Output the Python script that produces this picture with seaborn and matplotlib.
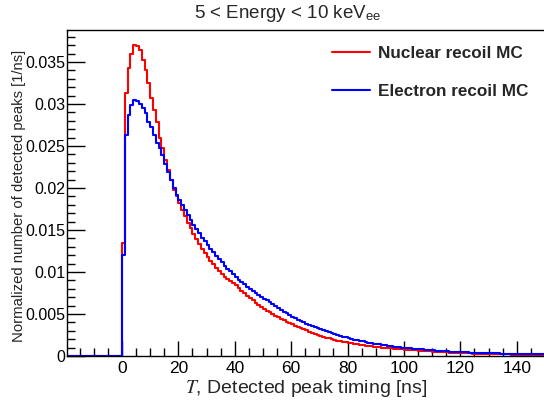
import numpy as np
import pandas as pd
import matplotlib
matplotlib.use("Agg")
import matplotlib.pyplot as plt
from matplotlib.ticker import MultipleLocator, FuncFormatter
from matplotlib.lines import Line2D
import seaborn as sns

# ---- data (1 ns bins starting at T = 0 ns) ----
nuclear_recoil = [
    0.0135, 0.0313, 0.0343, 0.0360, 0.0370, 0.0369, 0.0364, 0.0352, 0.0340, 0.0325,
    0.0307, 0.0293, 0.0279, 0.0260, 0.0247, 0.0233, 0.0221, 0.0209, 0.0198, 0.0190,
    0.01817, 0.01737, 0.01661, 0.01588, 0.01519, 0.01452, 0.01389, 0.01328, 0.0127, 0.01223,
    0.01178, 0.01135, 0.01093, 0.01052, 0.01014, 0.00976, 0.0094, 0.00914, 0.00888, 0.00864,
    0.0084, 0.00807, 0.00776, 0.00745, 0.00716, 0.00688, 0.00661, 0.00635, 0.00610, 0.00586,
    0.00563, 0.00541, 0.0052, 0.00499, 0.00479, 0.00460, 0.00442, 0.00425, 0.00408, 0.00392,
    0.00376, 0.00361, 0.00347, 0.00333, 0.0032, 0.00305, 0.00291, 0.00278, 0.00265, 0.00252,
    0.00241, 0.00230, 0.00219, 0.00209, 0.00199, 0.0019, 0.00183, 0.00176, 0.00169, 0.00163,
    0.00157, 0.00151, 0.00145, 0.00140, 0.00134, 0.00129, 0.00124, 0.0012, 0.00116, 0.00112,
    0.00108, 0.00105, 0.00101, 0.00098, 0.00095, 0.00092, 0.00089, 0.00086, 0.00083, 0.0008,
    0.00077, 0.00074, 0.00071, 0.00068, 0.00066, 0.00063, 0.00061, 0.00058, 0.00056, 0.00054,
    0.00052, 0.0005, 0.00048, 0.00046, 0.00044, 0.00042, 0.00040, 0.00039, 0.00037, 0.00036,
    0.00034, 0.00033, 0.00031, 0.0003, 0.00029, 0.00028, 0.00027, 0.00026, 0.00025, 0.00024,
    0.00023, 0.00022, 0.00022, 0.00021, 0.00020, 0.0002, 0.00019, 0.00018, 0.00017, 0.00016,
    0.00015, 0.00014, 0.00013, 0.00013, 0.00012, 0.00011, 0.00011, 0.0001, 0.0001, 0.0001,
]
electron_recoil = [
    0.0120, 0.0263, 0.0287, 0.0299, 0.0305, 0.0304, 0.0300, 0.0295, 0.0289, 0.0279,
    0.0272, 0.0263, 0.0254, 0.0247, 0.0239, 0.0229, 0.0219, 0.0209, 0.0200, 0.0192,
    0.01855, 0.01793, 0.01732, 0.01674, 0.01618, 0.01563, 0.01510, 0.01459, 0.0141, 0.01363,
    0.01318, 0.01274, 0.01232, 0.01191, 0.01151, 0.01113, 0.01076, 0.01040, 0.01006, 0.00972,
    0.0094, 0.00910, 0.00882, 0.00854, 0.00827, 0.00801, 0.00776, 0.00751, 0.00728, 0.00705,
    0.00682, 0.00661, 0.0064, 0.00615, 0.00592, 0.00569, 0.00547, 0.00526, 0.00506, 0.00487,
    0.00468, 0.00450, 0.00433, 0.00416, 0.0040, 0.00385, 0.00370, 0.00356, 0.00342, 0.00329,
    0.00316, 0.00304, 0.00292, 0.00281, 0.00270, 0.0026, 0.00250, 0.00240, 0.00230, 0.00221,
    0.00212, 0.00204, 0.00196, 0.00188, 0.00181, 0.00174, 0.00167, 0.0016, 0.00154, 0.00148,
    0.00142, 0.00137, 0.00131, 0.00126, 0.00121, 0.00117, 0.00112, 0.00108, 0.00104, 0.0010,
    0.00096, 0.00093, 0.00090, 0.00087, 0.00084, 0.00081, 0.00078, 0.00075, 0.00072, 0.00070,
    0.00067, 0.00065, 0.00062, 0.00060, 0.00058, 0.00055, 0.00053, 0.00051, 0.00049, 0.00047,
    0.00045, 0.00043, 0.00042, 0.0004, 0.00039, 0.00038, 0.00037, 0.00036, 0.00035, 0.00034,
    0.00033, 0.00032, 0.00031, 0.00030, 0.00029, 0.00028, 0.00027, 0.00026, 0.00026, 0.00025,
    0.00024, 0.00023, 0.00023, 0.00022, 0.00021, 0.00021, 0.00020, 0.0002, 0.00019, 0.00019,
]
series_labels = ["Nuclear recoil MC", "Electron recoil MC"]
series_colors = ["#ff0000", "#0000ff"]
x_tick_values = [0, 20, 40, 60, 80, 100, 120, 140]
title_text = "5 < Energy < 10 keV$_{\\mathregular{ee}}$"
x_label = "$T$, Detected peak timing [ns]"
y_label = "Normalized number of detected peaks [1/ns]"

# histogram binning: 1 ns bins, empty below T = 0
t_min, t_max = -20, 150
n_neg = int(-t_min)

def to_frame(vals):
    w = np.concatenate([np.zeros(n_neg), np.asarray(vals, dtype=float)])
    centers = np.arange(t_min, t_max) + 0.5
    return pd.DataFrame({"T": centers, "w": w})

# ---- style ----
sns.set_style("ticks")
plt.rcParams["font.family"] = ["Liberation Sans", "DejaVu Sans"]
plt.rcParams["mathtext.fontset"] = "stix"

fig = plt.figure(figsize=(5.44, 4.03), dpi=100)
ax = fig.add_axes([67 / 544, 47 / 403, 478 / 544, 326 / 403])

for vals, col in zip([nuclear_recoil, electron_recoil], series_colors):
    df = to_frame(vals)
    sns.histplot(data=df, x="T", weights="w", binwidth=1, binrange=(t_min, t_max),
                 element="step", fill=False, color=col, linewidth=1.5, ax=ax)

ax.set_xlim(-19.5, t_max)
ax.set_ylim(0, 0.0388)

ax.xaxis.set_major_locator(matplotlib.ticker.FixedLocator(x_tick_values))
ax.xaxis.set_minor_locator(MultipleLocator(5))
ax.yaxis.set_major_locator(MultipleLocator(0.005))
ax.yaxis.set_minor_locator(MultipleLocator(0.001))
ax.yaxis.set_major_formatter(FuncFormatter(lambda v, p: "%g" % round(v, 4)))
ax.xaxis.set_major_formatter(FuncFormatter(lambda v, p: "%d" % v))

ax.tick_params(axis="both", which="both", direction="in", colors="black",
               top=False, right=False)
ax.tick_params(axis="x", which="major", length=11, width=1, labelsize=12.5, pad=3.5)
ax.tick_params(axis="y", which="major", length=13, width=1, labelsize=11.5, pad=1)
ax.tick_params(axis="both", which="minor", length=6, width=1)

for s in ["left", "bottom", "top"]:
    ax.spines[s].set_visible(True)
    ax.spines[s].set_color("black")
    ax.spines[s].set_linewidth(1)
ax.spines["right"].set_visible(False)

ax.set_xlabel(x_label, fontsize=14)
ax.set_ylabel(y_label, fontsize=10.7)
ax.xaxis.set_label_coords(0.5, -0.068)
ax.yaxis.set_label_coords(-0.086, 0.49)

fig.text(288 / 544, 1 - 13 / 403, title_text, ha="center", va="center", fontsize=13.5)

handles = [Line2D([], [], color=c, linewidth=1.5) for c in series_colors]
leg = ax.legend(handles, series_labels, loc="upper left",
                bbox_to_anchor=(332 / 544, 1 - 46 / 403), bbox_transform=fig.transFigure,
                frameon=False, borderpad=0, borderaxespad=0, handlelength=2.22,
                handletextpad=0.47, labelspacing=1.35,
                prop={"weight": "bold", "size": 12.3})

fig.savefig("out.png", dpi=100)
